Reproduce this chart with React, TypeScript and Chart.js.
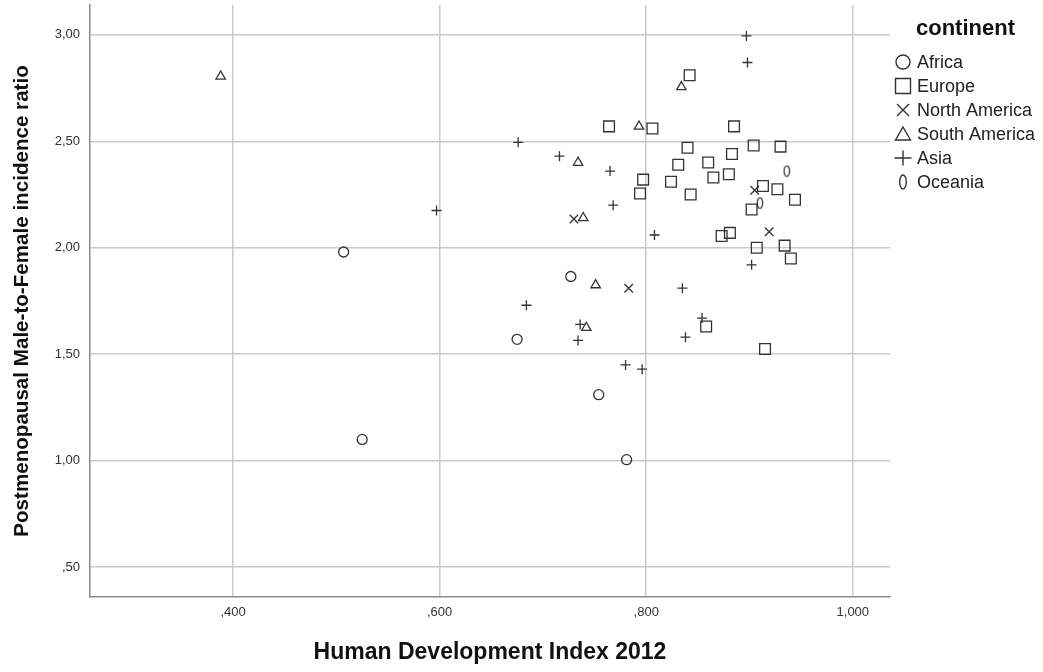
import React, { useEffect, useRef } from "react";
import { Chart, registerables } from "chart.js";

Chart.register(...registerables);

// Human Development Index 2012 (x) and postmenopausal male-to-female incidence ratio (y), by continent
const africaHdi = [0.507, 0.525, 0.727, 0.675, 0.754, 0.781];
const africaRatio = [1.98, 1.1, 1.865, 1.57, 1.31, 1.005];

const europeHdi = [
  0.842, 0.764, 0.806, 0.885, 0.84, 0.904, 0.93, 0.831, 0.883, 0.86, 0.797, 0.824, 0.865, 0.88,
  0.794, 0.843, 0.913, 0.927, 0.944, 0.902, 0.873, 0.881, 0.907, 0.934, 0.94, 0.858, 0.915,
];
const europeRatio = [
  2.81, 2.57, 2.56, 2.57, 2.47, 2.48, 2.475, 2.39, 2.44, 2.4, 2.32, 2.31, 2.33, 2.345,
  2.255, 2.25, 2.29, 2.275, 2.225, 2.18, 2.055, 2.07, 2.0, 2.01, 1.95, 1.63, 1.525,
];

const northAmericaHdi = [0.73, 0.783, 0.905, 0.919];
const northAmericaRatio = [2.135, 1.81, 2.27, 2.075];

const southAmericaHdi = [0.388, 0.834, 0.793, 0.734, 0.739, 0.751, 0.742];
const southAmericaRatio = [2.805, 2.755, 2.57, 2.4, 2.14, 1.825, 1.625];

const asiaHdi = [
  0.897, 0.898, 0.676, 0.716, 0.765, 0.768, 0.597, 0.808, 0.684, 0.835, 0.736, 0.734, 0.838,
  0.78, 0.796, 0.902, 0.854,
];
const asiaRatio = [
  2.995, 2.87, 2.495, 2.43, 2.36, 2.2, 2.175, 2.06, 1.73, 1.81, 1.64, 1.565, 1.58, 1.45, 1.43,
  1.92, 1.67,
];

const oceaniaHdi = [0.936, 0.91];
const oceaniaRatio = [2.36, 2.21];

const continentNames = ["Africa", "Europe", "North America", "South America", "Asia", "Oceania"];
const xTicks = [0.4, 0.6, 0.8, 1.0];
const yTicks = [0.5, 1.0, 1.5, 2.0, 2.5, 3.0];

const legendTitle = "continent";
const xTitle = "Human Development Index 2012";
const yTitle = "Postmenopausal Male-to-Female incidence ratio";

const INK = "#333333";
const FONT = "'Liberation Sans', Arial, sans-serif";

type Shape = "circle" | "square" | "x" | "triangle" | "plus" | "oval";
const shapes: Shape[] = ["circle", "square", "x", "triangle", "plus", "oval"];

const toPoints = (xs: number[], ys: number[]) => xs.map((x, i) => ({ x, y: ys[i] }));

// Comma decimal separator with the leading zero dropped: 0.5 -> ",50"
const fmt = (v: number, digits: number) => {
  const s = v.toFixed(digits).replace(".", ",");
  return s.startsWith("0,") ? s.slice(1) : s;
};

function makeOval(w: number, h: number, lw: number): HTMLCanvasElement {
  const c = document.createElement("canvas");
  c.width = w;
  c.height = h;
  const g = c.getContext("2d")!;
  g.strokeStyle = INK;
  g.lineWidth = lw;
  g.beginPath();
  g.ellipse(w / 2, h / 2, w / 2 - lw, h / 2 - lw, 0, 0, Math.PI * 2);
  g.stroke();
  return c;
}

function drawLegendMarker(ctx: CanvasRenderingContext2D, shape: Shape, x: number, y: number) {
  ctx.save();
  ctx.strokeStyle = INK;
  ctx.lineWidth = 1.4;
  ctx.beginPath();
  if (shape === "circle") {
    ctx.arc(x, y, 7, 0, Math.PI * 2);
  } else if (shape === "square") {
    ctx.rect(x - 7.5, y - 7.5, 15, 15);
  } else if (shape === "x") {
    ctx.moveTo(x - 6, y - 6);
    ctx.lineTo(x + 6, y + 6);
    ctx.moveTo(x + 6, y - 6);
    ctx.lineTo(x - 6, y + 6);
  } else if (shape === "triangle") {
    ctx.moveTo(x, y - 7);
    ctx.lineTo(x + 7.5, y + 6);
    ctx.lineTo(x - 7.5, y + 6);
    ctx.closePath();
  } else if (shape === "plus") {
    ctx.moveTo(x - 8.5, y);
    ctx.lineTo(x + 8.5, y);
    ctx.moveTo(x, y - 7.5);
    ctx.lineTo(x, y + 7.5);
  } else {
    ctx.ellipse(x, y, 3.3, 7, 0, 0, Math.PI * 2);
  }
  ctx.stroke();
  ctx.restore();
}

// Legend drawn to the right of the plot area
const continentLegend = {
  id: "continentLegend",
  afterDraw(chart: any) {
    const ctx: CanvasRenderingContext2D = chart.ctx;
    const left = chart.chartArea.right + 26;
    ctx.save();
    ctx.fillStyle = "#111";
    ctx.textBaseline = "middle";
    ctx.textAlign = "left";
    ctx.font = `bold 22px ${FONT}`;
    ctx.fillText(legendTitle, left, 29);
    ctx.font = `18px ${FONT}`;
    chart.data.datasets.forEach((ds: any, i: number) => {
      const y = 62 + i * 24;
      drawLegendMarker(ctx, shapes[i], left - 13, y);
      ctx.fillStyle = "#222";
      ctx.fillText(ds.label, left + 1, y + 1);
    });
    ctx.restore();
  },
};

export default function App() {
  const ref = useRef<HTMLCanvasElement | null>(null);

  useEffect(() => {
    if (!ref.current) return;
    const oval = makeOval(8, 13, 1.3);
    const series = [
      { data: toPoints(africaHdi, africaRatio), pointStyle: "circle", pointRadius: 5 },
      { data: toPoints(europeHdi, europeRatio), pointStyle: "rect", pointRadius: 7.6 },
      { data: toPoints(northAmericaHdi, northAmericaRatio), pointStyle: "crossRot", pointRadius: 6 },
      { data: toPoints(southAmericaHdi, southAmericaRatio), pointStyle: "triangle", pointRadius: 5.4 },
      { data: toPoints(asiaHdi, asiaRatio), pointStyle: "cross", pointRadius: 5 },
      { data: toPoints(oceaniaHdi, oceaniaRatio), pointStyle: oval, pointRadius: 6 },
    ];
    const chart = new Chart(ref.current, {
      type: "scatter",
      data: {
        datasets: series.map((s, i) => ({
          label: continentNames[i],
          data: s.data,
          pointStyle: s.pointStyle as any,
          pointRadius: s.pointRadius,
          pointHoverRadius: s.pointRadius,
          borderColor: INK,
          backgroundColor: "rgba(0,0,0,0)",
          pointBorderWidth: 1.3,
        })),
      },
      plugins: [continentLegend],
      options: {
        animation: false,
        responsive: true,
        maintainAspectRatio: false,
        layout: { autoPadding: false, padding: { top: 5, right: 153, left: 0, bottom: 0 } },
        plugins: {
          legend: { display: false },
          tooltip: { enabled: false },
        },
        scales: {
          x: {
            type: "linear",
            min: 0.2615,
            max: 1.036,
            afterFit: (s: any) => {
              s.height = 75;
              s.paddingLeft = 0;
              s.paddingRight = 0;
            },
            afterBuildTicks: (s: any) => {
              s.ticks = xTicks.map((v) => ({ value: v }));
            },
            grid: { color: "#c9c9c9", lineWidth: 1.5, drawTicks: false },
            border: { display: true, color: "#8a8a8a", width: 1.5 },
            ticks: {
              color: INK,
              padding: 8,
              font: { family: FONT, size: 13 },
              callback: (v: any) => fmt(Number(v), 3),
            },
            title: {
              display: true,
              text: xTitle,
              color: "#111",
              font: { family: FONT, size: 23, weight: "bold" },
              padding: { top: 0, bottom: 6 },
            },
          },
          y: {
            type: "linear",
            min: 0.36,
            max: 3.14,
            afterFit: (s: any) => {
              s.width = 90;
              s.paddingTop = 0;
              s.paddingBottom = 0;
            },
            afterBuildTicks: (s: any) => {
              s.ticks = yTicks.map((v) => ({ value: v }));
            },
            grid: { color: "#c9c9c9", lineWidth: 1.5, drawTicks: false },
            border: { display: true, color: "#8a8a8a", width: 1.5 },
            ticks: {
              color: INK,
              padding: 10,
              font: { family: FONT, size: 13 },
              callback: (v: any) => fmt(Number(v), 2),
            },
            title: {
              display: true,
              text: yTitle,
              color: "#111",
              font: { family: FONT, size: 20.6, weight: "bold" },
              padding: { top: 10, bottom: 0 },
            },
          },
        },
      },
    });
    return () => chart.destroy();
  }, []);

  return (
    <div style={{ position: "fixed", left: 0, top: 0, width: 1043, height: 672, background: "#fff" }}>
      <canvas ref={ref} />
    </div>
  );
}
